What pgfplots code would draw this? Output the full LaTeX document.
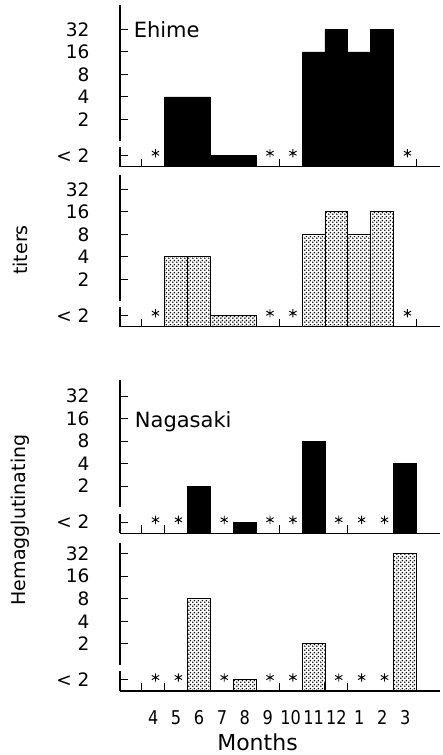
\documentclass[border=0pt]{standalone}
\usepackage{fontspec}
\setmainfont{DejaVu Sans}
\newfontfamily\numfont{DejaVu Sans}[FakeStretch=0.85]
\usepackage{pgfplots}
\pgfplotsset{compat=1.18}
\usetikzlibrary{patterns.meta}

\tikzdeclarepattern{
  name=fdots,
  type=uncolored,
  bounding box={(0pt,0pt) and (4pt,4pt)},
  tile size={(4pt,4pt)},
  code={\fill (1pt,1pt) circle (1pt); \fill (3pt,3pt) circle (1pt);}
}

% y position: <2 -> 0.5 ; titer v -> log2(v)+1.1  (2->2.1, 4->3.1, 8->4.1, 16->5.1, 32->6.1)
\pgfplotsset{
  panel/.style={
    scale only axis, width=319.5pt,
    xmin=-0.45, xmax=13.5, ymin=0,
    axis line style={draw=none},
    clip=false,
    ytick={0.5,2.1,3.1,4.1,5.1,6.1},
    yticklabels={{< 2},2,4,8,16,32},
    ytick pos=left, xtick pos=left,
    tick align=inside,
    major tick length=8pt,
    minor tick num=0,
    tick style={line width=1pt, black},
    tick label style={font=\fontsize{18.5}{20}\selectfont},
    yticklabel style={xshift=-27pt},
    xticklabels={},
  },
  blackbar/.style={ybar, bar width=1, bar shift=0pt, fill=black, draw=black, line width=0.9pt},
  dotbar/.style={ybar, bar width=1, bar shift=0pt, pattern=fdots, pattern color=black, draw=black, line width=0.9pt},
  star/.style={only marks, mark=asterisk, mark size=4.2pt, mark options={line width=0.9pt, black}},
}

\begin{document}
\begin{tikzpicture}
\useasboundingbox (0pt,0pt) rectangle (442pt,-755pt);

% ---------- Ehime (black) ----------
\begin{axis}[panel, at={(120pt,-166.7pt)}, anchor=south west, height=162pt, ymax=7.2,
  xtick={0.5,6.5,12.5}]
\addplot[blackbar] coordinates {(2,3.1) (3,3.1) (8,5.1) (9,6.1) (10,5.1) (11,6.1)};
\addplot[blackbar, bar width=2] coordinates {(4.5,0.5)};
\addplot[star] coordinates {(1.1,0.6) (6.1,0.6) (7.1,0.6) (12.1,0.6)};
\draw[line width=1.2pt] (axis cs:-0.45,0) -- (axis cs:13.5,0);
\draw[line width=1.2pt] (axis cs:-0.45,0) -- (axis cs:-0.45,0.88);
\draw[line width=1.2pt] (axis cs:-0.45,1.15) -- (axis cs:-0.45,7.2);
\node[anchor=west, font=\fontsize{21}{24}\selectfont, inner sep=1pt] at (axis cs:0.1,6.1) {Ehime};
\end{axis}

% ---------- Ehime (dotted) ----------
\begin{axis}[panel, at={(120pt,-326.7pt)}, anchor=south west, height=151.9pt, ymax=6.75,
  xtick={0.5,6.5,12.5}]
\addplot[dotbar] coordinates {(2,3.1) (3,3.1) (8,4.1) (9,5.1) (10,4.1) (11,5.1)};
\addplot[dotbar, bar width=2] coordinates {(4.5,0.5)};
\addplot[star] coordinates {(1.1,0.6) (6.1,0.6) (7.1,0.6) (12.1,0.6)};
\draw[line width=1.2pt] (axis cs:-0.45,0) -- (axis cs:13.5,0);
\draw[line width=1.2pt] (axis cs:-0.45,0) -- (axis cs:-0.45,0.88);
\draw[line width=1.2pt] (axis cs:-0.45,1.15) -- (axis cs:-0.45,6.75);
\end{axis}

% ---------- Nagasaki (black) ----------
\begin{axis}[panel, at={(120pt,-533.3pt)}, anchor=south west, height=153pt, ymax=6.8,
  xtick={0.5,1.5,6.5,8.5,9.5}]
\addplot[blackbar] coordinates {(3,2.1) (5,0.5) (8,4.1) (12,3.1)};
\addplot[star] coordinates {(1.1,0.6) (2.1,0.6) (4.1,0.6) (6.1,0.6) (7.1,0.6) (9.1,0.6) (10.1,0.6) (11.1,0.6)};
\draw[line width=1.2pt] (axis cs:-0.45,0) -- (axis cs:13.5,0);
\draw[line width=1.2pt] (axis cs:-0.45,0) -- (axis cs:-0.45,0.88);
\draw[line width=1.2pt] (axis cs:-0.45,1.15) -- (axis cs:-0.45,6.8);
\node[anchor=west, font=\fontsize{21}{24}\selectfont, inner sep=1pt] at (axis cs:0.15,4.96) {Nagasaki};
\end{axis}

% ---------- Nagasaki (dotted) ----------
\begin{axis}[panel, at={(120pt,-691pt)}, anchor=south west, height=148.5pt, ymax=6.6,
  xtick={0.5,1.5,6.5,8.5,9.5},
  extra x ticks={1,2,3,4,5,6,7,8,9,10,11,12},
  extra x tick labels={4,5,6,7,8,9,10,11,12,1,2,3},
  extra x tick style={major tick length=0pt},
  xticklabel style={yshift=-16pt, font=\numfont\fontsize{19}{20}\selectfont}]
\addplot[dotbar] coordinates {(3,4.1) (5,0.5) (8,2.1) (12,6.1)};
\addplot[star] coordinates {(1.1,0.6) (2.1,0.6) (4.1,0.6) (6.1,0.6) (7.1,0.6) (9.1,0.6) (10.1,0.6) (11.1,0.6)};
\draw[line width=1.2pt] (axis cs:-0.45,0) -- (axis cs:13.5,0);
\draw[line width=1.2pt] (axis cs:-0.45,0) -- (axis cs:-0.45,0.88);
\draw[line width=1.2pt] (axis cs:-0.45,1.15) -- (axis cs:-0.45,6.6);
\end{axis}

\node[font=\fontsize{22}{24}\selectfont, inner sep=0pt] at (257.5pt,-742pt) {Months};
\node[rotate=90, font=\fontsize{19}{22}\selectfont] at (20pt,-250pt) {titers};
\node[rotate=90, font=\fontsize{19}{22}\selectfont] at (20pt,-520pt) {Hemagglutinating};
\end{tikzpicture}
\end{document}
